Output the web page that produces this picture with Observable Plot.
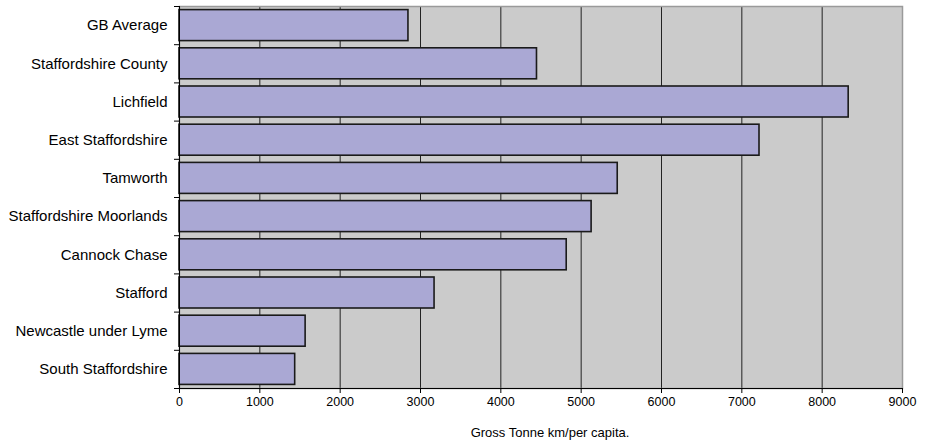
<!DOCTYPE html>
<html>
<head>
<meta charset="utf-8">
<script src="https://cdn.jsdelivr.net/npm/d3@7"></script>
<script src="https://cdn.jsdelivr.net/npm/@observablehq/plot@0.6"></script>
<style>
  html, body { margin: 0; padding: 0; background: #ffffff; }
  #chart svg { display: block; }
</style>
</head>
<body>
<div id="chart"></div>
<script>
const categories = [
  "GB Average",
  "Staffordshire County",
  "Lichfield",
  "East Staffordshire",
  "Tamworth",
  "Staffordshire Moorlands",
  "Cannock Chase",
  "Stafford",
  "Newcastle under Lyme",
  "South Staffordshire"
];
const values = [2850, 4450, 8330, 7220, 5455, 5130, 4820, 3175, 1570, 1440];
const xTicks = [0, 1000, 2000, 3000, 4000, 5000, 6000, 7000, 8000, 9000];
const xLabel = "Gross Tonne km/per capita.";

const data = categories.map((c, i) => ({category: c, index: i, value: values[i]}));
const bandEdges = d3.range(categories.length + 1);
const bandCenters = d3.range(categories.length).map(i => i + 0.5);

const chart = Plot.plot({
  width: 936,
  height: 444,
  marginLeft: 179,
  marginRight: 34,
  marginTop: 6,
  marginBottom: 56,
  style: {fontFamily: "'Liberation Sans', Arial, sans-serif", background: "#ffffff", color: "#000"},
  x: {domain: [xTicks[0], xTicks[xTicks.length - 1]]},
  y: {domain: [0, categories.length], reverse: true},
  marks: [
    Plot.frame({fill: "#cbcbcb", stroke: null}),
    Plot.ruleX(xTicks, {stroke: "#222", strokeWidth: 1}),
    Plot.frame({fill: "none", stroke: "#9a9a9a", strokeWidth: 1.5}),
    Plot.rect(data, {
      x1: 0,
      x2: "value",
      y1: "index",
      y2: d => d.index + 1,
      insetTop: 3.6,
      insetBottom: 3.6,
      fill: "#aaa8d4",
      stroke: "#1a1a1a",
      strokeWidth: 1.6
    }),
    Plot.ruleX([xTicks[0]], {stroke: "#000", strokeWidth: 1}),
    Plot.ruleY([categories.length], {stroke: "#000", strokeWidth: 1}),
    Plot.axisY({
      ticks: bandEdges,
      tickSize: 5,
      tickFormat: () => "",
      label: null
    }),
    Plot.axisY({
      ticks: bandCenters,
      tickSize: 0,
      tickPadding: 12,
      tickFormat: v => categories[Math.floor(v)],
      fontSize: 15,
      label: null
    }),
    Plot.axisX({
      ticks: xTicks,
      tickSize: 5,
      tickPadding: 4,
      tickFormat: d => String(d),
      fontSize: 12.5,
      label: xLabel,
      labelAnchor: "center",
      labelOffset: 48,
      labelArrow: "none"
    })
  ]
});
chart.querySelectorAll("g[aria-label='x-axis label']").forEach(el => {
  el.setAttribute("font-size", "13");
  const t = el.getAttribute("transform") || "";
  el.setAttribute("transform", (t + " translate(9,0)").trim());
});
document.getElementById("chart").appendChild(chart);
</script>
</body>
</html>
